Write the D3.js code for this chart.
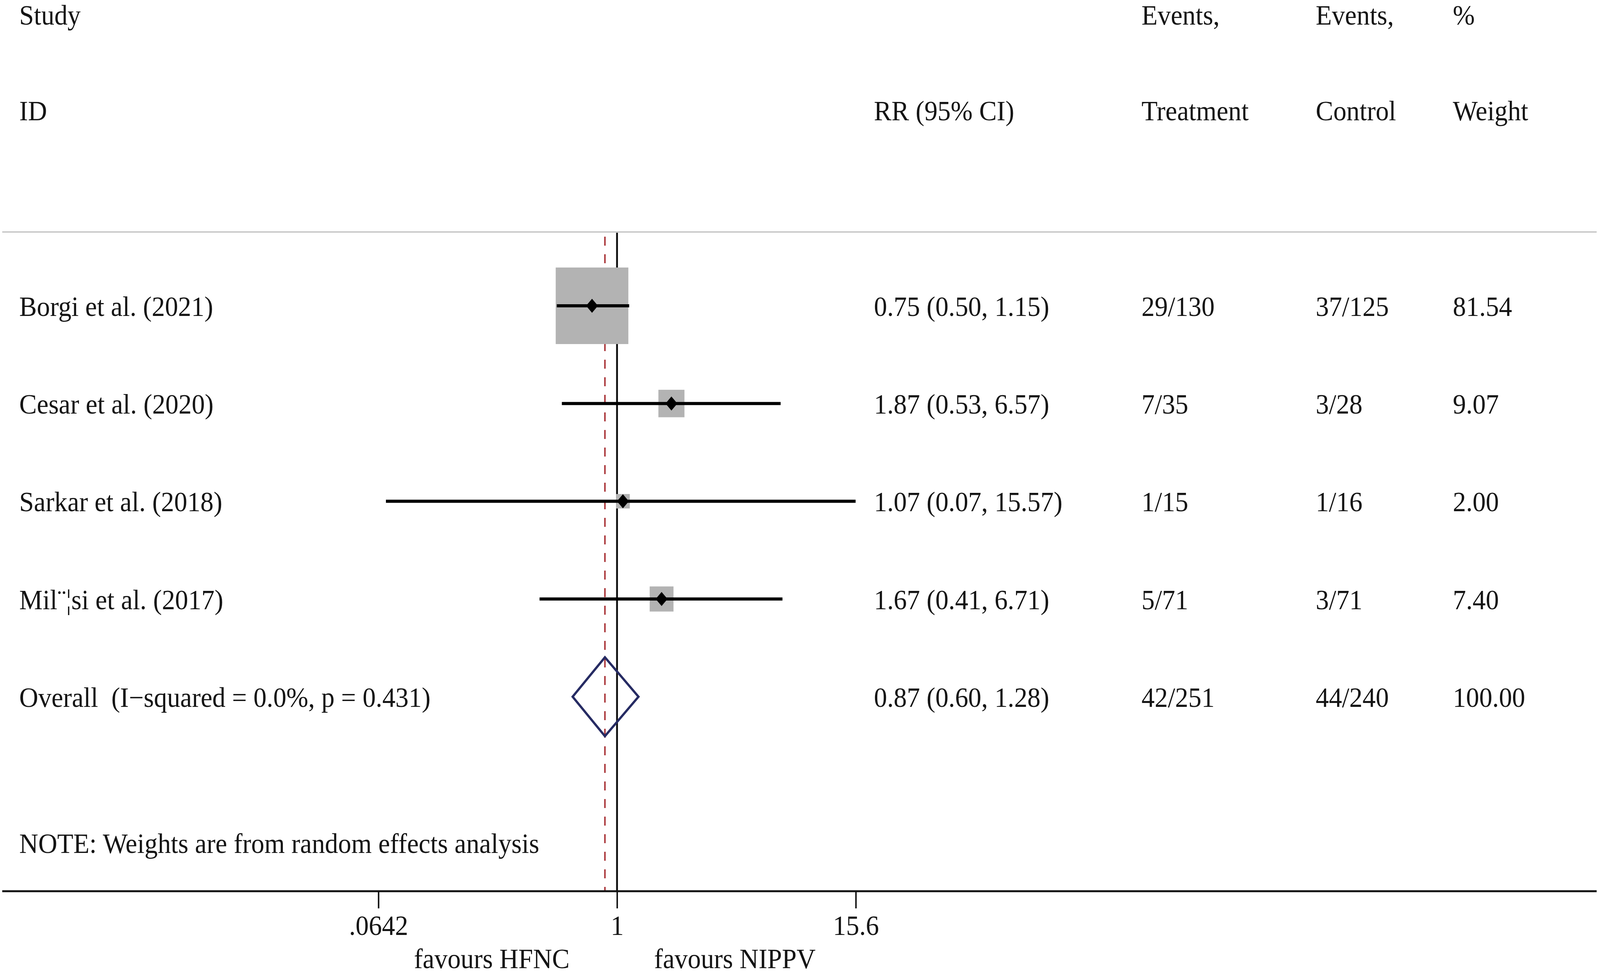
<!DOCTYPE html>
<html>
<head>
<meta charset="utf-8">
<script src="https://cdn.jsdelivr.net/npm/d3@7"></script>
<style>
  html, body { margin: 0; padding: 0; background: #fff; overflow: hidden; }
  #forest svg { display: block; width: 100vw; height: 100vh; }
  text { font-family: "Liberation Serif", "Times New Roman", serif; fill: #141414; white-space: pre; }
</style>
</head>
<body>
<div id="forest"></div>
<script>
// study rows
const studies = ["Borgi et al. (2021)", "Cesar et al. (2020)", "Sarkar et al. (2018)", "Mil\u00a8\u00a6si et al. (2017)"];
const rr = [0.75, 1.87, 1.07, 1.67];
const ciLow = [0.50, 0.53, 0.07, 0.41];
const ciHigh = [1.15, 6.57, 15.57, 6.71];
const treatEvents = ["29/130", "7/35", "1/15", "5/71"];
const ctrlEvents = ["37/125", "3/28", "1/16", "3/71"];
const weights = [81.54, 9.07, 2.00, 7.40];

// pooled row
const overallLabel = "Overall  (I\u2212squared = 0.0%, p = 0.431)";
const overallRR = 0.87, overallLow = 0.60, overallHigh = 1.28;
const overallTreat = "42/251", overallCtrl = "44/240", overallWeight = 100.00;

// axis
const tickValues = [0.0642, 1, 15.6];
const tickLabels = [".0642", "1", "15.6"];

const W = 4317, H = 2494;
const fs = 71;

// fixed drawing size, stretched to fill the window
const svg = d3.select("#forest").append("svg")
  .attr("viewBox", `0 0 ${W} ${H}`)
  .attr("preserveAspectRatio", "none");

svg.append("rect").attr("width", W).attr("height", H).attr("fill", "#fff");

const x = d3.scaleLog().domain([0.0642, 15.6]).range([1021, 2309]);
const y = d3.scalePoint().domain(d3.range(studies.length + 1)).range([783, 1784]);
const side = d3.scaleSqrt().domain([0, 81.54]).range([7.5, 196]);

const lineTop = 596, axisY = 2282;
const fmt = d3.format(".2f");

// column x positions
const colStudy = 52, colRR = 2358, colT = 3080, colC = 3550, colW = 3920;

// headers
const hdr = [
  [colStudy, 63, "Study"], [colStudy, 308, "ID"],
  [colRR, 308, "RR (95% CI)"],
  [colT, 63, "Events,"], [colT, 308, "Treatment"],
  [colC, 63, "Events,"], [colC, 308, "Control"],
  [colW, 63, "%"], [colW, 308, "Weight"]
];
svg.selectAll("text.hdr").data(hdr).enter().append("text")
  .attr("class", "hdr")
  .attr("x", d => d[0]).attr("y", d => d[1])
  .style("font-size", fs + "px")
  .text(d => d[2]);

// separator under header
svg.append("line")
  .attr("x1", 6).attr("x2", 4308)
  .attr("y1", lineTop - 2).attr("y2", lineTop - 2)
  .attr("stroke", "#bdbdbd").attr("stroke-width", 3);

// no-effect line
svg.append("line")
  .attr("x1", x(1)).attr("x2", x(1))
  .attr("y1", lineTop).attr("y2", axisY)
  .attr("stroke", "#111").attr("stroke-width", 5);

// pooled estimate line
svg.append("line")
  .attr("x1", x(overallRR)).attr("x2", x(overallRR))
  .attr("y1", lineTop + 10).attr("y2", axisY)
  .attr("stroke", "#a83236").attr("stroke-width", 4)
  .attr("stroke-dasharray", "23,22");

const rows = studies.map((s, i) => ({
  s, i, rr: rr[i], lo: ciLow[i], hi: ciHigh[i], t: treatEvents[i], c: ctrlEvents[i], w: weights[i]
}));

// weight boxes
svg.selectAll("rect.box").data(rows).enter().append("rect")
  .attr("class", "box")
  .attr("x", d => x(d.rr) - side(d.w) / 2)
  .attr("y", d => y(d.i) - side(d.w) / 2)
  .attr("width", d => side(d.w))
  .attr("height", d => side(d.w))
  .attr("fill", "#b3b3b3");

// confidence intervals
svg.selectAll("line.ci").data(rows).enter().append("line")
  .attr("class", "ci")
  .attr("x1", d => x(d.lo)).attr("x2", d => x(d.hi))
  .attr("y1", d => y(d.i)).attr("y2", d => y(d.i))
  .attr("stroke", "#000").attr("stroke-width", 8);

// point estimates
const dm = 16;
svg.selectAll("path.pt").data(rows).enter().append("path")
  .attr("class", "pt")
  .attr("d", d => {
    const cx = x(d.rr), cy = y(d.i);
    return `M${cx},${cy - dm - 2}L${cx + dm},${cy}L${cx},${cy + dm + 2}L${cx - dm},${cy}Z`;
  })
  .attr("fill", "#000");

// pooled diamond
const oy = y(studies.length);
svg.append("path")
  .attr("d", `M${x(overallLow)},${oy}L${x(overallRR)},${oy - 101}L${x(overallHigh)},${oy}L${x(overallRR)},${oy + 101}Z`)
  .attr("fill", "none")
  .attr("stroke", "#262b63")
  .attr("stroke-width", 6)
  .attr("stroke-linejoin", "miter");

// table text
const tableRows = rows.map(d => [d.i, d.s, `${fmt(d.rr)} (${fmt(d.lo)}, ${fmt(d.hi)})`, d.t, d.c, fmt(d.w)]);
tableRows.push([studies.length, overallLabel, `${fmt(overallRR)} (${fmt(overallLow)}, ${fmt(overallHigh)})`, overallTreat, overallCtrl, fmt(overallWeight)]);

const cols = [colStudy, colRR, colT, colC, colW];
tableRows.forEach(r => {
  cols.forEach((cx, k) => {
    svg.append("text")
      .attr("x", cx)
      .attr("y", y(r[0]) + 26)
      .style("font-size", fs + "px")
      .text(r[k + 1]);
  });
});

svg.append("text")
  .attr("x", colStudy).attr("y", 2184)
  .style("font-size", fs + "px")
  .text("NOTE: Weights are from random effects analysis");

// x axis
svg.append("line")
  .attr("x1", 6).attr("x2", 4308)
  .attr("y1", axisY).attr("y2", axisY)
  .attr("stroke", "#111").attr("stroke-width", 5);

const axis = svg.append("g")
  .attr("transform", `translate(0,${axisY})`)
  .call(d3.axisBottom(x)
    .tickValues(tickValues)
    .tickFormat((d, i) => tickLabels[i])
    .tickSize(44)
    .tickPadding(18)
    .tickSizeOuter(0));
axis.select(".domain").remove();
axis.selectAll(".tick line").attr("stroke", "#111").attr("stroke-width", 4);
axis.selectAll(".tick text")
  .attr("fill", "#141414")
  .style("font-size", fs + "px")
  .style("font-family", "'Liberation Serif', serif");

svg.append("text")
  .attr("x", x(1) - 128).attr("y", 2479)
  .attr("text-anchor", "end")
  .style("font-size", fs + "px")
  .text("favours HFNC");

svg.append("text")
  .attr("x", x(1) + 100).attr("y", 2479)
  .style("font-size", fs + "px")
  .text("favours NIPPV");
</script>
</body>
</html>
